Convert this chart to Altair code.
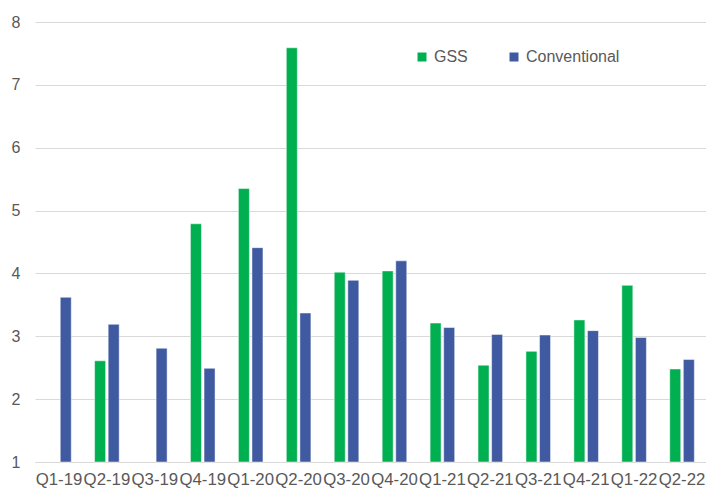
import altair as alt
import pandas as pd

# Quarterly values for green (GSS) and conventional issuance
quarters = ["Q1-19", "Q2-19", "Q3-19", "Q4-19", "Q1-20", "Q2-20", "Q3-20",
            "Q4-20", "Q1-21", "Q2-21", "Q3-21", "Q4-21", "Q1-22", "Q2-22"]
gss = [None, 2.61, None, 4.79, 5.35, 7.59, 4.02,
       4.04, 3.21, 2.54, 2.76, 3.26, 3.81, 2.48]
conventional = [3.62, 3.19, 2.81, 2.49, 4.41, 3.37, 3.89,
                4.20, 3.14, 3.03, 3.02, 3.09, 2.98, 2.63]
series = ["GSS", "Conventional"]
colors = ["#00B050", "#3F5AA0"]

rows = []
for q, g, c in zip(quarters, gss, conventional):
    if g is not None:
        rows.append({"quarter": q, "series": "GSS", "value": g})
    rows.append({"quarter": q, "series": "Conventional", "value": c})
df = pd.DataFrame(rows)

text_color = "#595959"
grid_color = "#D9D9D9"

chart = alt.Chart(df).mark_bar(
    stroke="white", strokeWidth=0.8, strokeOpacity=0.6
).encode(
    x=alt.X("quarter:N", sort=quarters, title=None,
            scale=alt.Scale(paddingInner=0, paddingOuter=0),
            axis=alt.Axis(labelAngle=0, ticks=False, domain=True,
                          domainColor=grid_color, domainWidth=1,
                          labelFontSize=16.8, labelColor=text_color,
                          labelFont="Liberation Sans", labelPadding=9,
                          labelOverlap=False, labelLimit=0)),
    xOffset=alt.XOffset("series:N", sort=series,
                        scale=alt.Scale(paddingInner=0.19, paddingOuter=0.86)),
    y=alt.Y("value:Q", title=None,
            scale=alt.Scale(domain=[1, 8], zero=False, nice=False),
            axis=alt.Axis(values=[1, 2, 3, 4, 5, 6, 7, 8], ticks=False,
                          domain=False, grid=True, gridColor=grid_color,
                          gridWidth=1, labelFontSize=16, labelColor=text_color,
                          labelFont="Liberation Sans", labelPadding=15)),
    y2=alt.datum(1),
    color=alt.Color("series:N", sort=series,
                    scale=alt.Scale(domain=series, range=colors),
                    legend=alt.Legend(title=None, orient="none",
                                      legendX=379, legendY=27,
                                      direction="horizontal",
                                      symbolType="square", symbolSize=81,
                                      symbolStrokeWidth=0,
                                      labelFontSize=16, labelColor=text_color,
                                      labelFont="Liberation Sans",
                                      labelOffset=4, columnPadding=38)),
).properties(
    width=671,
    height=440,
    background="white",
    padding={"left": 35, "top": 22, "right": 0, "bottom": 28},
    autosize=alt.AutoSizeParams(type="none"),
).configure_view(stroke=None)

chart.save("out.html", embed_options={"renderer": "svg", "actions": False})
